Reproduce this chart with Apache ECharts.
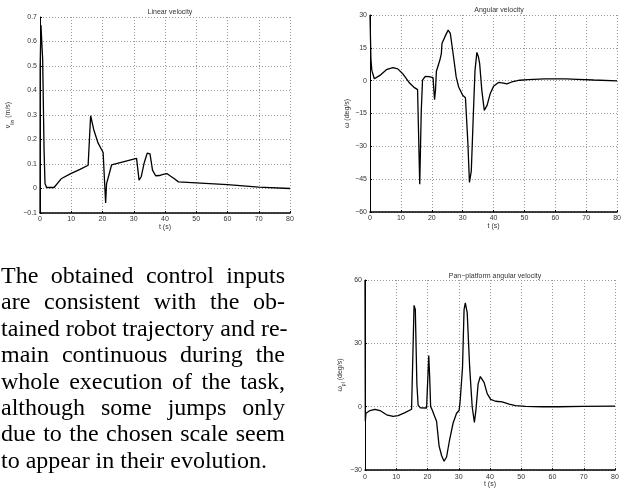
<!DOCTYPE html>
<html>
<head>
<meta charset="utf-8">
<script src="https://cdn.jsdelivr.net/npm/echarts@6/dist/echarts.min.js"></script>
<style>
  html, body { margin: 0; padding: 0; background: #fff; }
  #main { position: absolute; left: 0; top: 0; width: 624px; height: 489px; }
  #para { position: absolute; left: 1px; top: 262px; width: 284px;
          font-family: "Liberation Serif", "DejaVu Serif", serif; font-size: 24px;
          line-height: 26.4px; color: #000; }
  #para div { text-align: justify; text-align-last: justify; white-space: nowrap; }
  #para div.last { text-align-last: left; }
</style>
</head>
<body>
<div id="main"></div>
<div id="para">
  <div>The obtained control inputs</div>
  <div>are consistent with the ob-</div>
  <div>tained robot trajectory and re-</div>
  <div>main continuous during the</div>
  <div>whole execution of the task,</div>
  <div>although some jumps only</div>
  <div>due to the chosen scale seem</div>
  <div class="last">to appear in their evolution.</div>
</div>
<script>
// time ticks shared by all three plots
var tTicks = [0, 10, 20, 30, 40, 50, 60, 70, 80];

// linear velocity (m/s)
var linT = [0, 0.05, 0.3, 0.85, 1.3, 1.6, 2.1, 4.5, 6.9, 10, 12.8, 15.4, 16.2, 17.2, 18.6, 20.2, 20.4, 21.0, 21.3, 21.9, 22.9, 30.9, 31.1, 31.7, 32.4, 33.3, 34.3, 34.8, 35.2, 36.0, 37.0, 38.2, 39.4, 40.6, 41.6, 43.0, 44.3, 50, 60, 70, 80];
var linV = [-0.1, 0.5, 0.667, 0.527, 0.157, 0.02, 0.004, 0.004, 0.041, 0.062, 0.078, 0.095, 0.297, 0.24, 0.185, 0.147, 0.141, -0.059, 0.02, 0.048, 0.096, 0.123, 0.12, 0.034, 0.048, 0.103, 0.144, 0.145, 0.141, 0.075, 0.052, 0.053, 0.058, 0.061, 0.052, 0.04, 0.027, 0.023, 0.016, 0.006, 0.0];

// angular velocity (deg/s)
var angT = [0, 0.3, 0.6, 1.1, 1.4, 1.7, 3.2, 5.3, 7.4, 9.0, 10.6, 12.8, 14.4, 15.4, 16.1, 16.6, 17.0, 17.9, 19.1, 20.4, 20.9, 21.2, 21.5, 22.6, 23.1, 23.3, 24.5, 25.3, 26.0, 26.9, 27.9, 28.7, 30.0, 30.9, 31.1, 31.7, 32.2, 32.8, 33.5, 34.0, 34.6, 35.1, 35.5, 36.2, 37.0, 37.9, 38.9, 40.0, 41.6, 43.2, 44.3, 45.9, 48.5, 51.2, 56.5, 60.7, 63.5, 63.7, 64.0, 67.1, 72.4, 80];
var angW = [30, 9.6, 4.7, 4.0, 0.9, 0.5, 2.4, 5.0, 6.0, 5.4, 3.2, -1.1, -3.2, -4.1, -47.3, -13.6, 0.2, 2.0, 1.8, 1.4, -8.7, -4.4, 4.3, 9.3, 12.4, 17.0, 20.8, 23.1, 21.6, 12.4, 1.7, -2.9, -6.7, -7.8, -8.2, -28.9, -46.5, -41.2, -13.6, 4.7, 12.9, 10.9, 7.8, -4.4, -13.6, -11.3, -6.0, -2.6, -0.8, -1.1, -1.5, -0.6, 0.2, 0.5, 0.8, 0.8, 0.8, 1.3, 0.8, 0.6, 0.3, -0.1];

// pan-platform angular velocity (deg/s)
var panT = [0, 0.1, 0.3, 0.6, 1.6, 3.2, 4.8, 6.9, 9.0, 10.6, 12.8, 14.9, 15.4, 15.7, 16.1, 16.6, 17.0, 17.7, 19.7, 20.2, 20.4, 20.7, 21.0, 21.5, 22.3, 22.9, 23.3, 23.7, 24.5, 25.3, 26.1, 27.1, 28.2, 29.3, 30.1, 30.4, 30.9, 31.2, 31.7, 32.1, 32.7, 33.5, 34.3, 35.0, 35.5, 36.2, 36.9, 37.4, 38.1, 39.1, 40.2, 41.8, 43.9, 46.1, 48.2, 51.4, 56.7, 62, 69.5, 80];
var panW = [60, -6.9, -3.1, -2.3, -1.8, -1.2, -1.8, -3.8, -4.6, -4.2, -2.8, -1.2, -0.5, 48, 46, 10.8, 0.8, -0.5, -0.6, -0.3, 24.2, 13.8, 0, -1.5, -4.6, -6.9, -7.4, -18.5, -23.1, -25.8, -23.8, -15.4, -7.7, -3.1, -1.8, 1.8, 1.8, 18.5, 46, 49.2, 44.6, 18.5, 0, -7.4, -1.5, 10.8, 14.3, 14.0, 11.5, 6.2, 3.5, 2.6, 2.3, 1.2, 0.5, 0.15, 0, 0, 0.15, 0.3];

function zip(a, b) {
  var out = [];
  for (var i = 0; i < a.length; i++) out.push([a[i], b[i]]);
  return out;
}

var txt = '#333';
var fontFam = '"Liberation Sans", Arial, sans-serif';

function minus(v) {
  return String(v).replace('-', '\u2212');
}

function xAxisFor(idx, gap) {
  return {
    type: 'value', gridIndex: idx, min: 0, max: 80, interval: 10,
    name: 't (s)', nameLocation: 'middle', nameGap: gap,
    nameTextStyle: { color: txt, fontSize: 7, fontFamily: fontFam },
    axisLine: { onZero: false, lineStyle: { color: '#000', width: 1.5 } },
    axisTick: { inside: true, length: 2, lineStyle: { color: '#000' } },
    axisLabel: { color: txt, fontSize: 7, fontFamily: fontFam, margin: 3, formatter: minus },
    splitLine: { show: true, lineStyle: { color: '#999', type: [1, 2], width: 1 } }
  };
}

function yAxisFor(idx, min, max, step, name, gap, fmt) {
  return {
    type: 'value', gridIndex: idx, min: min, max: max, interval: step,
    name: name, nameLocation: 'middle', nameGap: gap, nameRotate: 90,
    nameTextStyle: {
      color: txt, fontSize: 7, fontFamily: fontFam,
      rich: {
        m: { fontSize: 7, color: txt, fontFamily: fontFam, lineHeight: 10, verticalAlign: 'top' },
        s: { fontSize: 5, color: txt, fontFamily: fontFam, lineHeight: 10, verticalAlign: 'bottom' }
      }
    },
    axisLine: { show: true, onZero: false, lineStyle: { color: '#000', width: 1 } },
    axisTick: { inside: true, length: 2, lineStyle: { color: '#000' } },
    axisLabel: { color: txt, fontSize: 7, fontFamily: fontFam, margin: 3, formatter: fmt || minus },
    splitLine: { show: true, lineStyle: { color: '#999', type: [1, 2], width: 1 } }
  };
}

function lineSeries(idx, data) {
  return {
    type: 'line', xAxisIndex: idx, yAxisIndex: idx, data: data,
    showSymbol: false, symbol: 'none', clip: true,
    lineStyle: { color: '#000', width: 1.3 }
  };
}

var chart = echarts.init(document.getElementById('main'), null, { renderer: 'canvas' });
chart.setOption({
  animation: false,
  backgroundColor: '#fff',
  title: [
    { text: 'Linear velocity', left: 165, top: 4, textAlign: 'center',
      textStyle: { fontSize: 7, fontWeight: 'normal', color: txt, fontFamily: fontFam } },
    { text: 'Angular velocity', left: 494, top: 2, textAlign: 'center',
      textStyle: { fontSize: 7, fontWeight: 'normal', color: txt, fontFamily: fontFam } },
    { text: 'Pan\u2212platform angular velocity', left: 490, top: 268, textAlign: 'center',
      textStyle: { fontSize: 7, fontWeight: 'normal', color: txt, fontFamily: fontFam } }
  ],
  grid: [
    { left: 40, top: 17, width: 250, height: 196 },
    { left: 370, top: 15, width: 249, height: 197 },
    { left: 365, top: 280, width: 250, height: 195 }
  ],
  xAxis: [xAxisFor(0, 11), xAxisFor(1, 11), xAxisFor(2, 10)],
  yAxis: [
    yAxisFor(0, -0.1, 0.7, 0.1, '{m|v}{s|lin}{m| (m/s)}', 25, function (v) {
      return minus(Math.round(v * 10) / 10);
    }),
    yAxisFor(1, -60, 30, 15, '{m|\u03c9 (deg/s)}', 16),
    yAxisFor(2, -30, 60, 30, '{m|\u03c9}{s|pl}{m| (deg/s)}', 11)
  ],
  series: [
    lineSeries(0, zip(linT, linV)),
    lineSeries(1, zip(angT, angW)),
    lineSeries(2, zip(panT, panW))
  ]
});
</script>
</body>
</html>
